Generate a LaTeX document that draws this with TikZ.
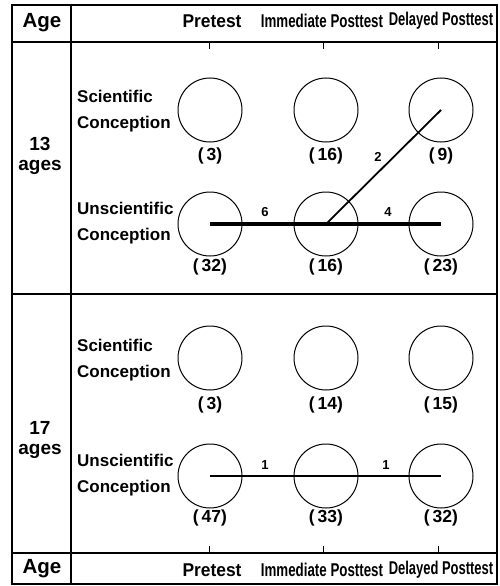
\documentclass[tikz,border=0pt]{standalone}
\usepackage{fontspec}
\setmainfont{Liberation Sans}
\newcommand\cond[2]{\scalebox{#1}[1]{#2}}
\begin{document}
\begin{tikzpicture}[x=1pt,y=-1pt,
  frame/.style={line width=1.4pt},
  txt/.style={font=\bfseries\fontsize{17}{26}\selectfont, inner sep=0pt},
  head/.style={font=\bfseries\fontsize{18.5}{20}\selectfont, inner sep=0pt},
  agetxt/.style={font=\bfseries\fontsize{20.5}{17}\selectfont, inner sep=0pt, align=center},
  agenum/.style={font=\bfseries\fontsize{19}{19.5}\selectfont, inner sep=0pt, align=center},
  rowlab/.style={txt, align=left, anchor=west},
  num/.style={font=\bfseries\fontsize{17.5}{20}\selectfont, inner sep=0pt},
  flowlab/.style={font=\bfseries\fontsize{13}{15}\selectfont, inner sep=0pt},
  circ/.style={circle, draw, minimum size=64pt, inner sep=0pt, line width=1pt},
  tick/.style={line width=0.9pt},
  flow/.style={line width=#1pt}
]
\useasboundingbox (0,0) rectangle (499,586);
% frame
\draw[frame] (12,5) rectangle (497,584);
\draw[frame] (12,42) -- (497,42);
\draw[frame] (12,294) -- (497,294);
\draw[frame] (12,553) -- (497,553);
\draw[frame] (71,5) -- (71,584);
% headers
\node[agetxt] (ageT) at (42,23) {Age};
\node[agetxt] (ageB) at (42,569) {Age};
\node[head] (preT) at (212,21) {\cond{0.94}{Pretest}};
\node[head] (immT) at (322,21) {\cond{0.72}{Immediate Posttest}};
\node[head] (delT) at (441,21) {\cond{0.70}{Delayed Posttest}};
\node[head] (preB) at (212,570) {\cond{0.94}{Pretest}};
\node[head] (immB) at (322,570) {\cond{0.72}{Immediate Posttest}};
\node[head] (delB) at (441,570) {\cond{0.70}{Delayed Posttest}};
% ticks
\foreach \x/\n in {209/a,323/b,438/c}{
  \coordinate (tt\n) at (\x,42); \coordinate (tb\n) at (\x,49);
  \draw[tick] (tt\n) -- (tb\n);
  \coordinate (bt\n) at (\x,546); \coordinate (bb\n) at (\x,553);
  \draw[tick] (bt\n) -- (bb\n);
}
% age labels
\node[agenum] (age13) at (40,156) {13\\ages};
\node[agenum] (age17) at (40,440) {17\\ages};
% row labels
\node[rowlab] (ls13) at (77,111) {Scientific\\Conception};
\node[rowlab] (lu13) at (77,223) {Unscientific\\Conception};
\node[rowlab] (ls17) at (77,360) {Scientific\\Conception};
\node[rowlab] (lu17) at (77,475) {Unscientific\\Conception};
% circles
\foreach \r/\y in {s13/110,u13/224,s17/358,u17/476}{
  \node[circ] (\r a) at (210,\y) {};
  \node[circ] (\r b) at (326,\y) {};
  \node[circ] (\r c) at (441,\y) {};
}
% counts
\node[num] (ns13a) at (210,156) {(\,3)};
\node[num] (ns13b) at (326,156) {(\,16)};
\node[num] (ns13c) at (441,156) {(\,9)};
\node[num] (nu13a) at (210,267) {(\,32)};
\node[num] (nu13b) at (326,267) {(\,16)};
\node[num] (nu13c) at (441,267) {(\,23)};
\node[num] (ns17a) at (210,405) {(\,3)};
\node[num] (ns17b) at (326,405) {(\,14)};
\node[num] (ns17c) at (441,405) {(\,15)};
\node[num] (nu17a) at (210,518) {(\,47)};
\node[num] (nu17b) at (326,518) {(\,33)};
\node[num] (nu17c) at (441,518) {(\,32)};
% flows
\draw[flow=4.8] (u13a.center) -- (u13b.center);
\draw[flow=3.4] (u13b.center) -- (u13c.center);
\draw[flow=1.8] (u13b.center) -- (s13c.center);
\draw[flow=1.1] (u17a.center) -- (u17b.center);
\draw[flow=1.1] (u17b.center) -- (u17c.center);
% flow labels
\node[flowlab] (f6) at (265,212) {6};
\node[flowlab] (f4) at (388,212) {4};
\node[flowlab] (f2) at (378,157) {2};
\node[flowlab] (f1a) at (265,465) {1};
\node[flowlab] (f1b) at (386,465) {1};
\end{tikzpicture}
\end{document}
